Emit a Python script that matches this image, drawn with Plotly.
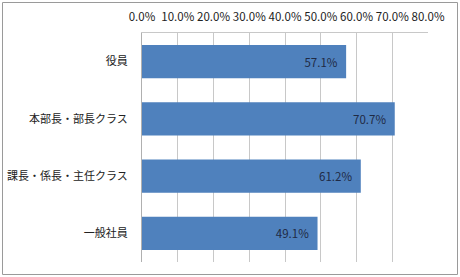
import plotly.graph_objects as go

categories = ["役員", "本部長・部長クラス", "課長・係長・主任クラス", "一般社員"]
values = [0.571, 0.707, 0.612, 0.491]
labels = ["57.1%", "70.7%", "61.2%", "49.1%"]

W, H = 460, 277
L, R, T, B = 142, 428, 33, 262

fig = go.Figure(go.Bar(
    y=categories, x=values, orientation="h",
    marker=dict(color="#4F81BD", line=dict(width=0)),
    text=[s + "\u2002" for s in labels], textposition="inside", insidetextanchor="end",
    textfont=dict(family="Noto Sans CJK JP", size=11.5, color="#1F2A44"),
    width=0.58,
))

def px_x(p):
    return (p - L) / (R - L)

def px_y(p):
    return (B - p) / (B - T)

fig.update_layout(
    width=W, height=H,
    margin=dict(l=L, r=W - R, t=T, b=H - B),
    paper_bgcolor="white", plot_bgcolor="white",
    showlegend=False,
    font=dict(family="Noto Sans CJK JP", size=11, color="#222"),
    xaxis=dict(side="top", range=[0, 0.8], dtick=0.1, tickformat=".1%",
               showgrid=True, gridcolor="#C8C8C8", gridwidth=1,
               showline=True, linecolor="#C8C8C8", zeroline=False,
               ticks="", ticklen=0, ticklabelstandoff=6, tickangle=0,
               automargin=False,
               tickfont=dict(size=11.5, color="#222")),
    yaxis=dict(autorange="reversed", showgrid=False, showline=True,
               linecolor="#B0B0B0", ticks="", ticklabelstandoff=11,
               automargin=False,
               tickfont=dict(size=11, color="#222")),
    shapes=[dict(type="rect", xref="paper", yref="paper",
                 x0=px_x(2.5), x1=px_x(457.5), y0=px_y(274.5), y1=px_y(2.5),
                 line=dict(color="#9A9A9A", width=1))],
)

fig.write_html("out.html")
